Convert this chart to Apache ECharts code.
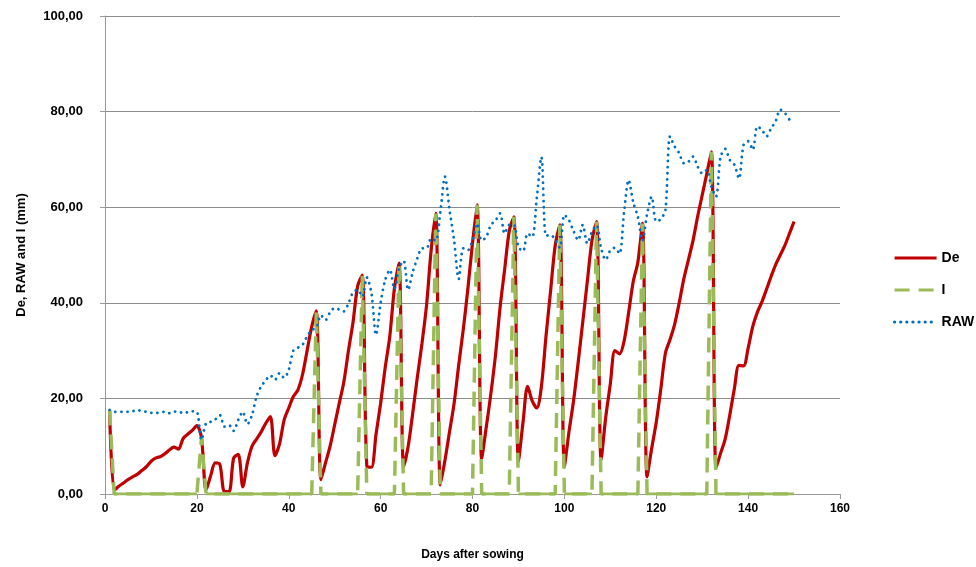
<!DOCTYPE html>
<html>
<head>
	<meta charset="utf-8">
	<title>De, RAW and I</title>
	<script src="https://cdn.jsdelivr.net/npm/echarts@6/dist/echarts.min.js"></script>
	<style>
		html, body { margin: 0; padding: 0; background: #fff; }
		#chart { width: 976px; height: 567px; }
	</style>
</head>
<body>
<div id="chart"></div>
<script>
// days after sowing 1..150
var days = [];
for (var d = 1; d <= 150; d++) { days.push(d); }

// De (mm), one value per day
var deValues = [
	17.5, 0.8, 1.6, 2.3, 3.0, 3.6, 4.1, 4.9, 5.7, 6.8,
	7.5, 7.8, 8.4, 9.2, 9.8, 9.4, 11.6, 12.5, 13.3, 14.3,
	11.8, 0.8, 3.8, 6.5, 6.2, 0.5, 0.5, 7.5, 8.3, 1.5,
	6.5, 10.0, 11.5, 13.0, 14.8, 16.2, 8.0, 10.5, 15.5, 18.0,
	20.4, 21.8, 25.0, 30.0, 35.0, 38.3, 3.0, 6.5, 10.0, 14.5,
	19.0, 23.5, 30.0, 36.0, 43.5, 45.8, 5.8, 5.6, 12.5, 19.0,
	26.5, 33.0, 43.0, 48.3, 5.7, 10.0, 17.0, 24.5, 31.5, 39.5,
	51.0, 58.7, 1.9, 7.0, 13.0, 19.0, 27.0, 34.5, 43.0, 52.5,
	60.5, 7.3, 14.0, 21.0, 29.0, 39.0, 47.0, 55.0, 58.0, 6.8,
	15.0, 22.5, 19.5, 18.0, 22.5, 33.0, 42.5, 52.0, 56.3, 5.7,
	13.0, 19.5, 27.5, 36.0, 44.5, 53.0, 57.0, 7.1, 16.0, 23.0,
	30.0, 29.3, 32.0, 38.0, 44.5, 48.5, 56.6, 3.6, 9.5, 15.0,
	22.0, 29.5, 32.3, 35.5, 40.0, 45.0, 49.0, 53.0, 58.0, 62.5,
	67.0, 71.6, 5.4, 8.5, 11.5, 16.5, 22.0, 26.9, 26.8, 30.5,
	35.0, 38.0, 40.2, 42.8, 45.5, 48.0, 50.0, 52.0, 54.5, 57.0
];

// RAW (mm), one value per day
var rawValues = [
	17.6, 17.2, 17.2, 17.2, 17.2, 17.3, 17.6, 17.3, 17.2, 17.0,
	16.9, 17.1, 17.2, 16.9, 17.2, 17.3, 16.9, 17.1, 17.3, 17.2,
	11.3, 14.8, 15.1, 15.6, 16.5, 14.1, 14.4, 13.2, 15.5, 17.2,
	14.6, 16.5, 20.4, 22.5, 23.8, 24.8, 23.9, 25.3, 24.3, 26.0,
	30.0, 30.6, 31.2, 33.0, 34.3, 34.8, 37.4, 36.4, 38.0, 38.9,
	38.6, 38.2, 39.9, 42.2, 42.7, 41.3, 45.3, 42.0, 33.3, 40.0,
	44.8, 46.9, 42.9, 47.2, 48.8, 42.7, 46.5, 49.3, 51.4, 51.4,
	53.5, 53.0, 59.0, 66.4, 59.5, 53.0, 45.0, 51.4, 51.0, 53.1,
	56.6, 53.0, 53.8, 56.3, 57.2, 58.7, 54.5, 56.3, 56.3, 51.7,
	50.8, 54.5, 53.8, 62.0, 70.5, 54.0, 54.2, 53.2, 51.5, 58.4,
	57.3, 55.0, 53.1, 56.3, 52.4, 54.8, 56.2, 51.4, 49.0, 51.0,
	51.5, 50.3, 59.0, 65.7, 61.0, 58.0, 53.0, 58.5, 62.2, 57.0,
	57.5, 59.4, 74.8, 72.7, 71.3, 69.2, 69.5, 70.6, 68.5, 67.1,
	67.8, 64.3, 62.2, 70.5, 72.2, 69.9, 68.9, 66.0, 73.0, 73.8,
	72.0, 76.9, 76.2, 74.8, 76.5, 78.0, 80.4, 79.7, 78.3
];

// irrigation events: day and amount I (mm)
var irrigationDays = [1, 21, 46, 56, 64, 72, 81, 89, 99, 107, 117, 132];
var irrigationAmounts = [17.5, 11.8, 38.3, 45.8, 48.3, 58.7, 60.5, 58.0, 56.3, 57.0, 56.6, 71.6];

var xTicks = { min: 0, max: 160, interval: 20 };
var yTicks = { min: 0, max: 100, interval: 20 };

var deData = days.map(function (d, i) { return [d, deValues[i]]; });
var rawData = rawValues.map(function (v, i) { return [days[i], v]; });
var iValues = days.map(function (d) {
	var k = irrigationDays.indexOf(d);
	return k >= 0 ? irrigationAmounts[k] : 0;
});
var iData = days.map(function (d, i) { return [d, iValues[i]]; });
// zero stretches between irrigations: Excel restarts the dash on every short segment, so they look solid
var iBase = days.map(function (d, i) {
	var flat = iValues[i] === 0 &&
		((i > 0 && iValues[i - 1] === 0) || (i < iValues.length - 1 && iValues[i + 1] === 0));
	return [d, flat ? 0 : null];
});

var chart = echarts.init(document.getElementById('chart'), null, { renderer: 'canvas' });
var font = 'Liberation Sans, Arial, sans-serif';
var labelFont = { color: '#000', fontWeight: 'bold', fontSize: 12, fontFamily: font };
var yLabelFont = { color: '#000', fontWeight: 'bold', fontSize: 13, fontFamily: font };

chart.setOption({
	animation: false,
	backgroundColor: '#fff',
	grid: { left: 105, right: 136, top: 16, bottom: 73 },
	legend: {
		orient: 'vertical',
		left: 888,
		top: 246,
		itemGap: 18,
		itemWidth: 42,
		itemHeight: 14,
		itemStyle: { opacity: 0 },
		lineStyle: { width: 3.2 },
		textStyle: { color: '#000', fontWeight: 'bold', fontSize: 14, fontFamily: font },
		data: ['De', 'I', 'RAW']
	},
	xAxis: {
		type: 'value',
		min: xTicks.min, max: xTicks.max, interval: xTicks.interval,
		name: 'Days after sowing',
		nameLocation: 'middle',
		nameGap: 55,
		nameTextStyle: labelFont,
		axisLine: { lineStyle: { color: '#999', width: 1 } },
		axisTick: { show: true, length: 5, inside: false, lineStyle: { color: '#999' } },
		axisLabel: Object.assign({ margin: 9 }, labelFont),
		splitLine: { show: false }
	},
	yAxis: {
		type: 'value',
		min: yTicks.min, max: yTicks.max, interval: yTicks.interval,
		name: 'De, RAW and I (mm)',
		nameLocation: 'middle',
		nameGap: 77,
		nameTextStyle: yLabelFont,
		axisLine: { show: true, lineStyle: { color: '#999', width: 1 } },
		axisTick: { show: true, length: 5, lineStyle: { color: '#999' } },
		axisLabel: Object.assign({
			margin: 22,
			formatter: function (v) { return v.toFixed(2).replace('.', ','); }
		}, yLabelFont),
		splitLine: { show: true, lineStyle: { color: '#8c8c8c', width: 1 } }
	},
	series: [
		{
			name: 'De',
			type: 'line',
			data: deData,
			showSymbol: false,
			symbol: 'none',
			smooth: 0.3,
			lineStyle: { color: '#C00000', width: 3.2 },
			itemStyle: { color: '#C00000' }
		},
		{
			name: 'I',
			type: 'line',
			data: iData,
			showSymbol: false,
			symbol: 'none',
			lineStyle: { color: '#9BBB59', width: 3.5, type: [15, 9] },
			itemStyle: { color: '#9BBB59' }
		},
		{
			name: 'I',
			type: 'line',
			data: iBase,
			showSymbol: false,
			symbol: 'none',
			connectNulls: false,
			lineStyle: { color: '#9BBB59', width: 3 },
			itemStyle: { color: '#9BBB59' }
		},
		{
			name: 'RAW',
			type: 'line',
			data: rawData,
			showSymbol: false,
			symbol: 'none',
			smooth: 0.3,
			lineStyle: { color: '#0070C0', width: 2.8, type: [0.1, 6], cap: 'round' },
			itemStyle: { color: '#0070C0' }
		}
	]
});
</script>
</body>
</html>
